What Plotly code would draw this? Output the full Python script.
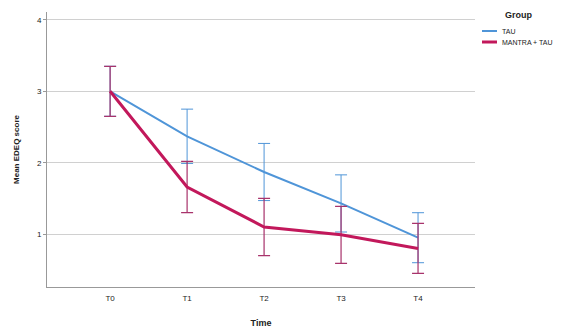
import plotly.graph_objects as go

times = ["T0", "T1", "T2", "T3", "T4"]
tau_mean = [3.00, 2.37, 1.87, 1.43, 0.95]
tau_ci = [0.35, 0.38, 0.40, 0.40, 0.35]
mantra_mean = [3.00, 1.66, 1.10, 0.99, 0.80]
mantra_ci = [0.35, 0.36, 0.40, 0.40, 0.35]
y_ticks = [1, 2, 3, 4]
groups = ["TAU", "MANTRA + TAU"]
legend_title = "Group"

blue = "#4f95d8"
red = "#c2185b"
colors = [blue, red]
widths = [2, 3]

fig = go.Figure()
fig.add_trace(go.Scatter(
    x=times, y=tau_mean, name=groups[0], mode="lines",
    line=dict(color=blue, width=2),
    error_y=dict(type="data", array=tau_ci, color=blue, thickness=1, width=6),
    showlegend=False,
))
fig.add_trace(go.Scatter(
    x=times, y=mantra_mean, name=groups[1], mode="lines",
    line=dict(color=red, width=3),
    error_y=dict(type="data", array=mantra_ci, color="#a8336b", thickness=1.2, width=6),
    showlegend=False,
))

# page has an 8px body margin; figure sized to fit the window exactly
OFF = 8
W, H = 574 - OFF, 334 - OFF
ml, mt = 47 - OFF, 12 - OFF
mr, mb = W - (475 - OFF), H - (287 - OFF)
pw, ph = W - ml - mr, H - mt - mb

def px(xp):
    return (xp - OFF - ml) / pw

def py(yp):
    return 1 - (yp - OFF - mt) / ph

fig.add_annotation(text="<b>" + legend_title + "</b>", xref="paper", yref="paper",
                   x=px(503), y=py(15), xanchor="left", yanchor="middle",
                   showarrow=False, font=dict(size=9, color="#222"))
for i, g in enumerate(groups):
    yy = 31 + i * 11
    fig.add_shape(type="line", xref="paper", yref="paper",
                  x0=px(482), x1=px(497), y0=py(yy), y1=py(yy),
                  line=dict(color=colors[i], width=widths[i]))
    fig.add_annotation(text=g, xref="paper", yref="paper",
                       x=px(500), y=py(yy), xanchor="left", yanchor="middle",
                       showarrow=False, font=dict(size=7, color="#222"))

fig.update_layout(
    width=W, height=H,
    margin=dict(l=ml, r=mr, t=mt, b=mb),
    paper_bgcolor="white", plot_bgcolor="white",
    font=dict(family="Liberation Sans, Arial, sans-serif", size=8, color="#222"),
    showlegend=False,
    xaxis=dict(
        title=dict(text="<b>Time</b>", font=dict(size=9), standoff=18),
        range=[-0.82, 4.74], showline=True, linecolor="#999", linewidth=1,
        showgrid=False, ticks="outside", ticklen=3, tickcolor="rgba(0,0,0,0)",
        zeroline=False, automargin=False,
    ),
    yaxis=dict(
        title=dict(text="<b>Mean EDEQ score</b>", font=dict(size=8), standoff=16),
        range=[0.26, 4.11], tickvals=y_ticks, showline=True, linecolor="#999", linewidth=1,
        showgrid=True, gridcolor="#d0d0d0", gridwidth=1,
        ticks="outside", ticklen=3, tickcolor="#999", zeroline=False, automargin=False,
    ),
)

fig.write_html("out.html")
